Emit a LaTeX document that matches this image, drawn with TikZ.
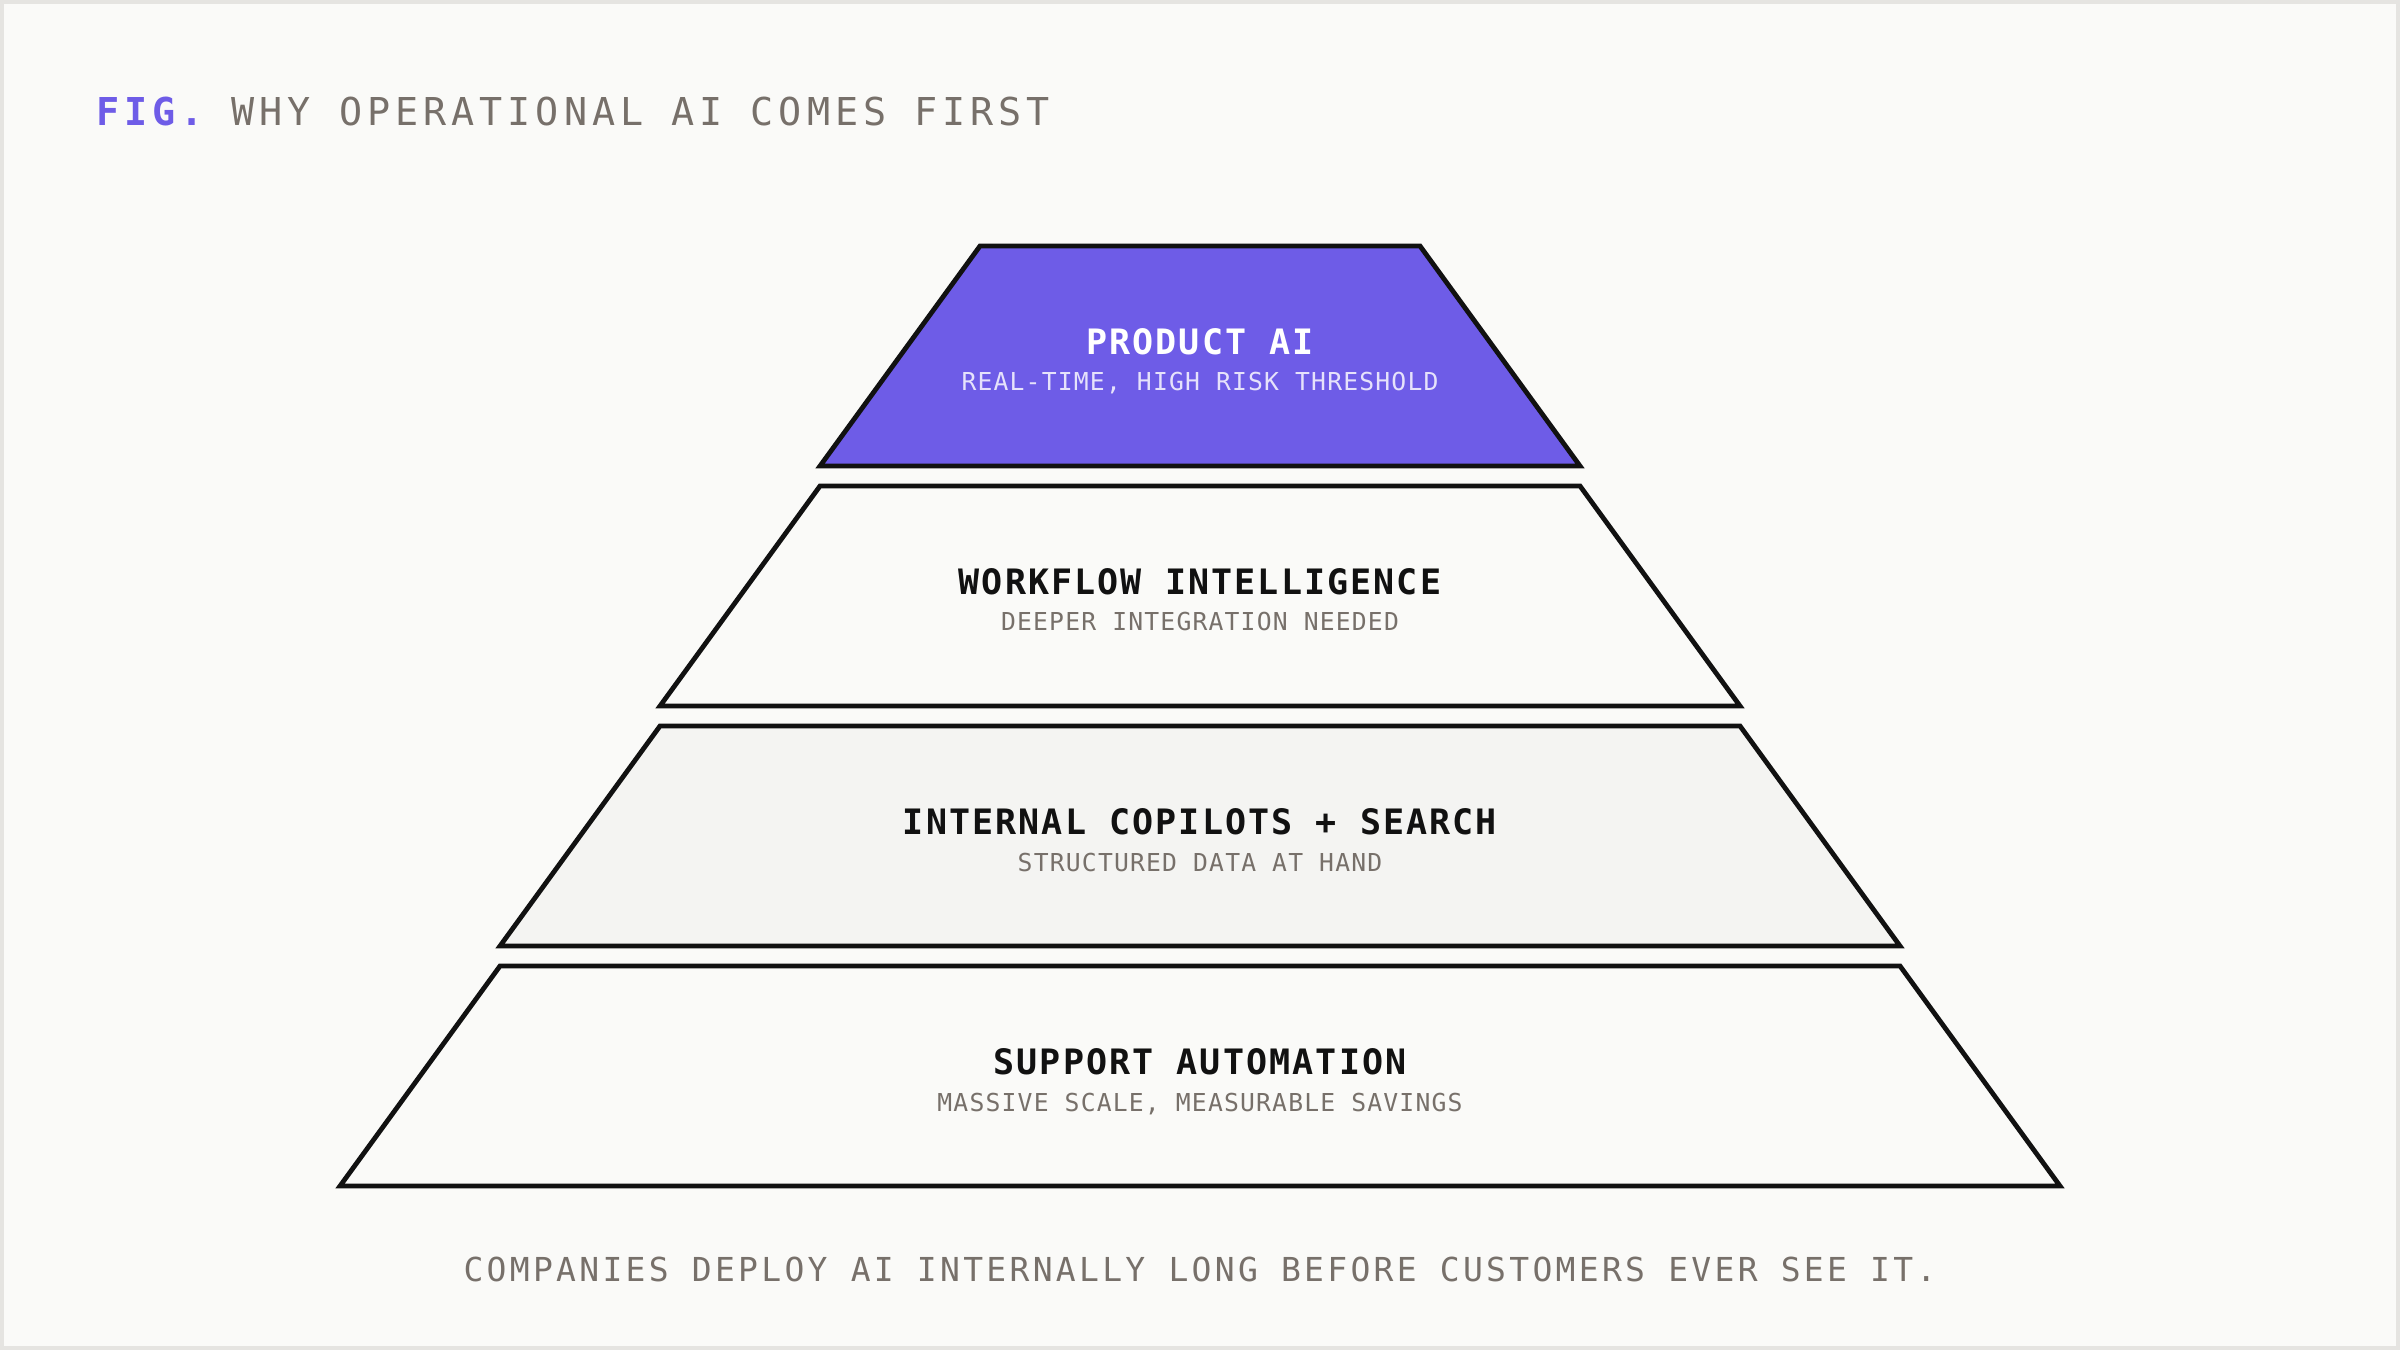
\documentclass[tikz,border=0pt]{standalone}
\usepackage{fontspec}
\newfontfamily\titlefont[LetterSpace=13]{DejaVu Sans Mono}
\newfontfamily\headfont[LetterSpace=6]{DejaVu Sans Mono}
\newfontfamily\subfont[LetterSpace=4.8]{DejaVu Sans Mono}
\newfontfamily\footfont[LetterSpace=10]{DejaVu Sans Mono}
\definecolor{bg}{HTML}{FAFAF8}
\definecolor{frame}{HTML}{E5E4E1}
\definecolor{ink}{HTML}{111111}
\definecolor{purple}{HTML}{6E5CE7}
\definecolor{lav}{HTML}{E6E2FB}
\definecolor{warmgray}{HTML}{77706A}
\definecolor{tierthree}{HTML}{F4F4F2}
\tikzset{
  tier/.style={draw=ink, line width=4.8pt, line join=miter},
  headtxt/.style={anchor=base, inner sep=0pt, font=\headfont\bfseries\fontsize{35}{40}\selectfont},
  subtxt/.style={anchor=base, inner sep=0pt, text=warmgray, font=\subfont\fontsize{24.7}{28}\selectfont},
}
\begin{document}
\begin{tikzpicture}[x=1pt,y=-1pt]
\useasboundingbox (0,0) rectangle (2400,1350);
\fill[bg] (0,0) rectangle (2400,1350);
\draw[frame, line width=4pt] (2,2) rectangle (2398,1348);
% title
\node[anchor=base west, inner sep=0pt, text=warmgray, font=\titlefont\fontsize{38.4}{42}\selectfont] (title) at (96,125) {{\color{purple}\bfseries FIG.} WHY OPERATIONAL AI COMES FIRST};
% tiers
\draw[tier, fill=purple] (980,246) -- (1420,246) -- (1580,466) -- (820,466) -- cycle;
\draw[tier, fill=bg] (820,486) -- (1580,486) -- (1740,706) -- (660,706) -- cycle;
\draw[tier, fill=tierthree] (660,726) -- (1740,726) -- (1900,946) -- (500,946) -- cycle;
\draw[tier, fill=bg] (500,966) -- (1900,966) -- (2060,1186) -- (340,1186) -- cycle;
% labels
\node[headtxt, text=white] (h1) at (1200,354) {PRODUCT AI};
\node[subtxt, text=lav] (s1) at (1200,390) {REAL-TIME, HIGH RISK THRESHOLD};
\node[headtxt, text=ink] (h2) at (1200,594) {WORKFLOW INTELLIGENCE};
\node[subtxt] (s2) at (1200,630) {DEEPER INTEGRATION NEEDED};
\node[headtxt, text=ink] (h3) at (1200,834) {INTERNAL COPILOTS + SEARCH};
\node[subtxt] (s3) at (1200,871) {STRUCTURED DATA AT HAND};
\node[headtxt, text=ink] (h4) at (1200,1074) {SUPPORT AUTOMATION};
\node[subtxt] (s4) at (1200,1111) {MASSIVE SCALE, MEASURABLE SAVINGS};
% footer
\node[anchor=base, inner sep=0pt, text=warmgray, font=\footfont\fontsize{33}{38}\selectfont] (foot) at (1200,1281) {COMPANIES DEPLOY AI INTERNALLY LONG BEFORE CUSTOMERS EVER SEE IT.};
\end{tikzpicture}
\end{document}
